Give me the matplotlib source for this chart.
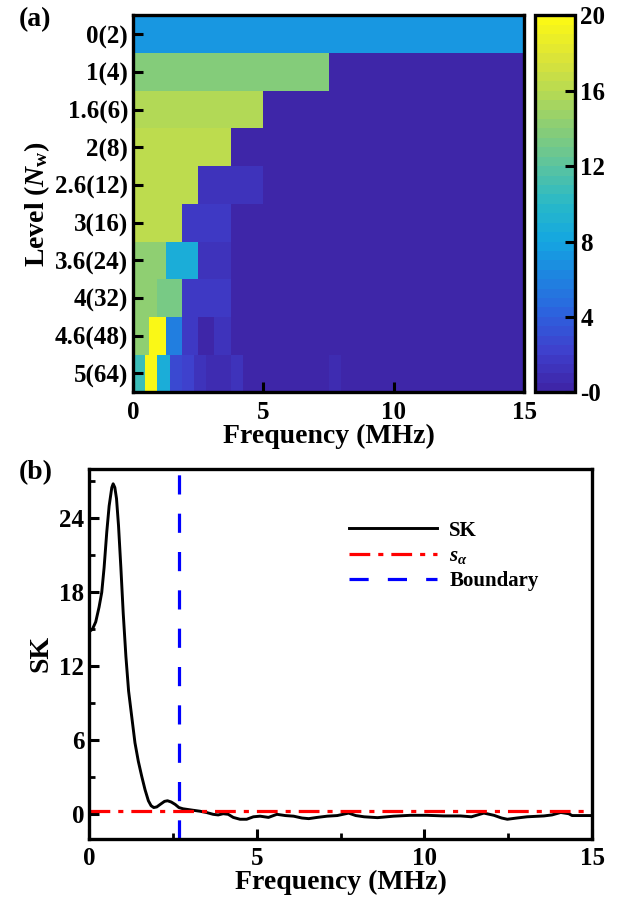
"""
kurtogram (a) and spectral kurtosis curve (b)
"""
import numpy as np
import matplotlib
matplotlib.use('Agg')
import matplotlib.pyplot as plt
from matplotlib.colors import LinearSegmentedColormap, ListedColormap, Normalize
from matplotlib.ticker import MultipleLocator

plt.rcParams['font.family'] = ['Liberation Serif', 'DejaVu Serif']
plt.rcParams['font.weight'] = 'bold'
plt.rcParams['axes.labelweight'] = 'bold'
plt.rcParams['mathtext.fontset'] = 'custom'
plt.rcParams['mathtext.rm'] = 'Liberation Serif:bold'
plt.rcParams['mathtext.it'] = 'Liberation Serif:italic:bold'
plt.rcParams['mathtext.bf'] = 'Liberation Serif:bold'

# ---- panel (a) data: one row per decomposition level ----
level_labels = ['0(2)', '1(4)', '1.6(6)', '2(8)', '2.6(12)',
                '3(16)', '3.6(24)', '4(32)', '4.6(48)', '5(64)']
f_max = 15.0
bg = 0.3
kurt_rows = [
    [7.0],
    [13.8, bg],
    [15.5, bg, bg],
    [16.4, bg, bg, bg],
    [16.4, 1.2, bg, bg, bg, bg],
    [16.4, 1.5, bg, bg, bg, bg, bg, bg],
    [14.3, 8.5, 1.3, bg, bg, bg, bg, bg, bg, bg, bg, bg],
    [14.3, 13.0, 1.8, 1.5, bg, bg, bg, bg, bg, bg, bg, bg, bg, bg, bg, bg],
    [14.3, 20.0, 5.5, 1.6, 0.4, 1.3, bg, bg, bg, bg, bg, bg,
     bg, bg, bg, bg, bg, bg, bg, bg, bg, bg, bg, bg],
    [10.8, 20.0, 8.5, 2.8, 2.1, 1.4, 0.7, 0.5, 1.3, bg, bg, bg, bg, bg, bg, bg,
     0.9, bg, bg, bg, bg, bg, bg, bg, bg, bg, bg, bg, bg, bg, bg, bg],
]
cbar_ticks = [0, 4, 8, 12, 16, 20]
cbar_ticklabels = ['-0', '4', '8', '12', '16', '20']

# ---- panel (b) data ----
sk_freq = [0.00, 0.10, 0.20, 0.30, 0.38, 0.45, 0.53, 0.60, 0.68, 0.72, 0.77,
           0.82, 0.88, 0.95, 1.02, 1.10, 1.18, 1.27, 1.37, 1.47, 1.57, 1.67,
           1.77, 1.85, 1.93, 2.02, 2.12, 2.25, 2.34, 2.45, 2.57, 2.68, 2.80,
           3.05, 3.31, 3.50, 3.70, 3.85, 4.00, 4.15, 4.30, 4.50, 4.70, 4.90,
           5.10, 5.35, 5.60, 5.85, 6.10, 6.35, 6.55, 6.80, 7.10, 7.40, 7.74,
           7.95, 8.20, 8.60, 9.08, 9.58, 10.08, 10.57, 11.07, 11.40, 11.77,
           12.07, 12.30, 12.47, 12.75, 13.06, 13.56, 13.80, 14.06, 14.30,
           14.40, 15.00]
sk_vals = [14.8, 15.0, 15.6, 16.8, 18.0, 20.0, 22.9, 25.0, 26.5, 26.8, 26.5,
           25.6, 23.4, 20.0, 16.3, 12.8, 10.0, 8.0, 5.8, 4.3, 3.1, 2.0,
           1.1, 0.7, 0.55, 0.6, 0.8, 1.05, 1.1, 1.0, 0.8, 0.55, 0.45,
           0.35, 0.25, 0.15, 0.0, -0.05, 0.05, 0.0, -0.25, -0.4, -0.4, -0.2,
           -0.15, -0.25, 0.0, -0.1, -0.15, -0.3, -0.35, -0.25, -0.15, -0.1, 0.1,
           -0.1, -0.2, -0.27, -0.15, -0.08, -0.08, -0.13, -0.13, -0.2, 0.1,
           -0.08, -0.3, -0.4, -0.3, -0.2, -0.13, -0.05, 0.15, 0.05,
           -0.1, -0.1]
s_alpha = 0.3
boundary = 2.69

# parula-like map, sampled into 40 steps
anchor_rgb = [(62, 38, 168), (62, 64, 205), (45, 98, 222), (30, 132, 224),
              (20, 166, 225), (40, 185, 200), (90, 195, 160), (135, 205, 120),
              (180, 217, 85), (220, 228, 55), (250, 248, 22)]
smooth = LinearSegmentedColormap.from_list(
    'parula_like', [tuple(c / 255 for c in rgb) for rgb in anchor_rgb])
cmap = ListedColormap(smooth(np.linspace(0, 1, 40)))
norm = Normalize(vmin=0, vmax=20)

spine_w = 2.4
fig = plt.figure(figsize=(6.33, 9.08), dpi=100)

# ---------------- (a) ----------------
ax1 = fig.add_axes([0.210, 0.568, 0.618, 0.415])
for i, row in enumerate(kurt_rows):
    xe = np.linspace(0, f_max, len(row) + 1)
    ye = np.array([i - 0.5, i + 0.5])
    ax1.pcolormesh(xe, ye, np.array([row]), cmap=cmap, norm=norm,
                   shading='flat')
ax1.set_xlim(0, f_max)
ax1.set_ylim(len(kurt_rows) - 0.5, -0.5)
ax1.set_yticks(range(len(level_labels)))
ax1.set_yticklabels(level_labels)
ax1.set_xticks([0, 5, 10, 15])
ax1.tick_params(axis='both', direction='in', length=7, width=2.2,
                labelsize=18, top=False, right=False)
ax1.tick_params(axis='x', pad=6)
for s in ax1.spines.values():
    s.set_linewidth(spine_w)
ax1.set_xlabel('Frequency (MHz)', fontsize=20, labelpad=0)
ax1.set_ylabel(r'Level ($N_{\mathrm{w}}$)', fontsize=20, labelpad=2)

cax = fig.add_axes([0.845, 0.568, 0.063, 0.415])
cb = fig.colorbar(plt.cm.ScalarMappable(norm=norm, cmap=cmap), cax=cax)
cb.set_ticks(cbar_ticks)
cb.set_ticklabels(cbar_ticklabels)
cb.outline.set_linewidth(spine_w)
cax.tick_params(direction='in', length=7, width=2.2, labelsize=18, pad=4)

fig.text(0.03, 0.978, '(a)', fontsize=20, ha='left', va='center')

# ---------------- (b) ----------------
ax2 = fig.add_axes([0.1406, 0.076, 0.795, 0.4075])
ax2.plot(sk_freq, sk_vals, color='black', lw=2.1, label='SK')
ax2.axhline(s_alpha, color='red', lw=2.3, ls=(0, (6.5, 2.5, 1.6, 2.5)),
            label=r'$s_{\alpha}$')
ax2.axvline(boundary, color='blue', lw=2.3, ls=(0, (6, 6)), label='Boundary')
ax2.set_xlim(0, 15)
ax2.set_ylim(-2, 28)
ax2.xaxis.set_major_locator(MultipleLocator(5))
ax2.xaxis.set_minor_locator(MultipleLocator(2.5))
ax2.yaxis.set_major_locator(MultipleLocator(6))
ax2.yaxis.set_minor_locator(MultipleLocator(3))
ax2.tick_params(which='major', direction='in', length=7, width=2.2,
                labelsize=18, top=False, right=False)
ax2.tick_params(which='minor', direction='in', length=4, width=2.0,
                top=False, right=False)
ax2.tick_params(axis='x', pad=6)
for s in ax2.spines.values():
    s.set_linewidth(spine_w)
ax2.set_xlabel('Frequency (MHz)', fontsize=20, labelpad=0)
ax2.set_ylabel('SK', fontsize=20, labelpad=4)
ax2.legend(loc='upper left', bbox_to_anchor=(0.517, 0.86), frameon=False,
           fontsize=15, handlelength=4.2, handletextpad=0.6,
           labelspacing=0.25, borderpad=0, borderaxespad=0)

fig.text(0.03, 0.48, '(b)', fontsize=20, ha='left', va='center')

fig.savefig('out.png', dpi=100)
